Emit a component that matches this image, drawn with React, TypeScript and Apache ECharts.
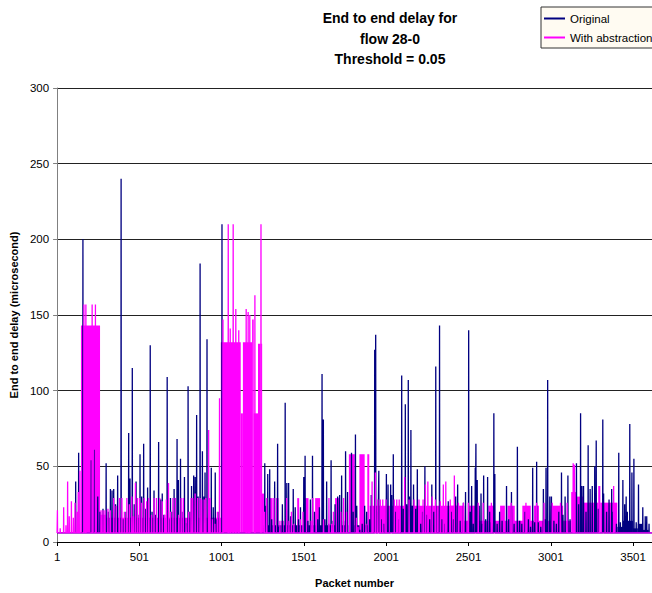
import React, { useEffect, useRef } from "react";
import * as echarts from "echarts";

// ---- axes ----
const xTickLabels = [1, 501, 1001, 1501, 2001, 2501, 3001, 3501];
const firstPacket = 1;
const lastPacket = 3616;
const floorDelay = 6;
const yMin = 0;
const yMax = 300;
const yStep = 50;

// ---- Original: individual spikes (packet number, delay in microseconds) ----
const originalPackets = [
  114, 132, 158, 209, 229, 248, 262, 280, 299, 312, 325, 335, 345, 356, 369, 390, 402, 420, 436, 444,
  458, 470, 481, 492, 505, 515, 527, 540, 551, 567, 578, 590, 600, 618, 630, 640, 650, 670, 680, 690,
  700, 712, 730, 738, 751, 760, 775, 786, 797, 808, 818, 831, 840, 849, 858, 870, 884, 893, 900, 912,
  922, 938, 950, 962, 972, 985, 1003, 1263, 1272, 1281, 1293, 1305, 1323, 1341, 1350, 1370, 1387, 1397,
  1408, 1420, 1436, 1448, 1468, 1480, 1500, 1508, 1525, 1540, 1553, 1565, 1585, 1595, 1611, 1619, 1628,
  1639, 1652, 1666, 1678, 1690, 1706, 1718, 1730, 1742, 1754, 1766, 1790, 1800, 1814, 1822, 1840, 1855,
  1870, 1882, 1900, 1910, 1931, 1937, 1950, 1956, 1970, 1985, 2002, 2012, 2028, 2034, 2044, 2060, 2080,
  2095, 2105, 2117, 2125, 2135, 2142, 2151, 2160, 2167, 2180, 2190, 2210, 2222, 2236, 2250, 2265, 2278,
  2290, 2302, 2325, 2340, 2360, 2378, 2395, 2410, 2423, 2435, 2450, 2470, 2483, 2502, 2512, 2520, 2530,
  2542, 2546, 2554, 2566, 2577, 2586, 2593, 2605, 2617, 2630, 2640, 2655, 2661, 2675, 2690, 2705, 2732,
  2745, 2762, 2778, 2798, 2812, 2825, 2845, 2865, 2878, 2891, 2903, 2915, 2925, 2940, 2956, 2965, 2972,
  2982, 2995, 3005, 3020, 3035, 3050, 3066, 3075, 3088, 3105, 3118, 3157, 3170, 3182, 3190, 3200, 3215,
  3228, 3240, 3253, 3268, 3277, 3290, 3317, 3322, 3340, 3355, 3371, 3380, 3400, 3414, 3424, 3439, 3450,
  3459, 3466, 3481, 3494, 3506, 3520, 3534, 3545, 3560, 3575, 3584, 3598,
];
const originalDelays = [
  40, 59, 200, 54, 61, 30, 20, 22, 52, 20, 35, 34, 35, 25, 44, 240, 15, 20, 72, 42,
  115, 25, 40, 18, 58, 30, 65, 22, 36, 130, 20, 34, 18, 66, 28, 32, 18, 109, 15, 29,
  20, 35, 68, 41, 55, 20, 43, 12, 103, 20, 37, 44, 43, 84, 30, 184, 60, 30, 46, 134,
  22, 49, 23, 46, 15, 20, 210, 52, 24, 45, 48, 15, 40, 65, 10, 25, 92, 39,
  39, 17, 35, 23, 15, 23, 43, 57, 14, 28, 57, 20, 15, 23, 111, 81, 15,
  40, 12, 54, 14, 25, 30, 31, 44, 14, 60, 33, 59, 20, 71, 24, 8, 12,
  24, 20, 15, 31, 127, 137, 20, 47, 15, 12, 45, 38, 38, 31, 58, 20, 15,
  110, 22, 91, 25, 107, 30, 74, 24, 38, 22, 48, 12, 20, 50, 18, 15, 38,
  20, 116, 143, 15, 12, 27, 20, 15, 30, 38, 14, 26, 33, 140, 20, 37, 12,
  49, 65, 41, 24, 32, 12, 44, 15, 43, 20, 13, 85, 45, 12, 20, 14, 37,
  15, 33, 12, 63, 14, 12, 20, 15, 10, 49, 13, 53, 13, 10, 35, 15, 49,
  107, 30, 30, 14, 12, 20, 46, 18, 30, 44, 15, 52, 25, 85, 37, 37, 20,
  64, 35, 37, 50, 67, 22, 81, 32, 20, 28, 35, 20, 12, 59, 13, 41, 25,
  30, 20, 78, 46, 55, 13, 38, 10, 23, 17, 17, 12,
];
// Original: stretches where the trace oscillates too fast to separate (start, end, upper level)
const originalBandStart = [1255, 1775, 3405, 3440, 3500, 3530, 3560];
const originalBandEnd = [1770, 1900, 3440, 3500, 3530, 3560, 3596];
const originalBandTop = [11, 11, 10, 14, 9, 12, 8];

// ---- With abstraction: individual spikes ----
const abstractionPackets = [
  3, 20, 41, 55, 65, 75, 88, 100, 110, 122, 130, 140, 164, 176, 214, 234, 268, 280, 292, 310,
  325, 345, 360, 380, 395, 410, 425, 440, 455, 465, 477, 490, 503, 515, 530, 545, 558, 575, 590, 605,
  625, 640, 655, 665, 678, 690, 705, 720, 740, 755, 768, 785, 800, 815, 825, 840, 855, 870, 880, 895,
  905, 922, 930, 945, 960, 975, 988, 1009, 1041, 1053, 1071, 1087, 1105, 1150, 1162, 1172, 1203, 1240,
  1262, 1275, 1318, 1355, 1396, 1410, 1425, 1440, 1480, 1495, 1545, 1555, 1620, 1653, 1670, 1680, 1725,
  1742, 1760, 1820, 1830, 1878, 1915, 1935, 1950, 1965, 1980, 2000, 2050, 2065, 2080, 2113, 2140, 2170,
  2200, 2225, 2239, 2254, 2280, 2300, 2330, 2348, 2363, 2390, 2415, 2440, 2470, 2500, 2560, 2590, 2640,
  2760, 2850, 2915, 2960, 3010, 3060, 3100, 3137, 3145, 3296, 3383,
];
const abstractionDelays = [
  21, 9, 23, 11, 40, 17, 27, 16, 26, 20, 33, 47, 157, 157, 157, 157, 21, 21, 21, 22,
  21, 29, 24, 29, 29, 20, 29, 25, 30, 17, 39, 29, 29, 26, 29, 27, 29, 18, 29, 29,
  29, 27, 18, 28, 39, 20, 29, 29, 18, 29, 29, 12, 20, 29, 29, 32, 29, 29, 28, 28,
  29, 74, 29, 15, 12, 20, 95, 147, 210, 141, 210, 154, 140, 154, 152, 150, 163, 210,
  20, 29, 29, 14, 29, 14, 20, 12, 15, 20, 14, 29, 15, 29, 12, 20, 20,
  29, 20, 16, 10, 12, 40, 46, 28, 28, 28, 28, 28, 28, 28, 43, 28, 28,
  28, 28, 38, 40, 30, 28, 27, 38, 40, 28, 44, 26, 26, 26, 26, 26, 26,
  26, 26, 26, 26, 26, 26, 26, 52, 51, 37, 37,
];
// With abstraction: dense stretches (start, end, upper level)
const abstractionBandStart = [
  146, 262, 300, 996, 1117, 1130, 1186, 1196, 1222, 1241, 1246, 1293, 1331, 1363, 1460, 1504, 1569, 1690,
  1774, 1838, 1886, 1900, 2430, 2395, 2506, 2621, 2693, 2738, 2828, 2899, 2999, 3125, 3160, 3200, 3290, 3302,
];
const abstractionBandEnd = [
  262, 300, 1000, 1117, 1130, 1186, 1196, 1222, 1238, 1246, 1258, 1311, 1347, 1379, 1472, 1529, 1599, 1714,
  1810, 1870, 1898, 2430, 3125, 2476, 2546, 2657, 2722, 2782, 2879, 2929, 3076, 3160, 3200, 3290, 3302, 3405,
];
const abstractionBandTop = [
  143, 18, 16, 132, 85, 132, 147, 85, 131, 131, 32, 29, 29, 14, 29, 29, 29, 29,
  58, 58, 58, 24, 14, 24, 24, 24, 24, 24, 24, 24, 24, 33, 30, 26, 37, 26,
];

const ORIGINAL_COLOR = "#000080";
const ABSTRACTION_COLOR = "#FF00FF";
const FONT = "'Liberation Sans', Arial, sans-serif";

function spikeTrace(packets: number[], delays: number[]) {
  const order = packets.map((_, i) => i).sort((a, b) => packets[a] - packets[b]);
  const pts: number[][] = [[firstPacket, floorDelay]];
  order.forEach((i) => {
    const p = packets[i];
    pts.push([p - 1, floorDelay], [p, delays[i]], [p + 1, floorDelay]);
  });
  pts.push([lastPacket, floorDelay]);
  return pts;
}

function bandSeries(name: string, color: string, starts: number[], ends: number[], tops: number[]) {
  return {
    type: "custom",
    name,
    silent: true,
    data: starts.map((s, i) => [s, ends[i], tops[i]]),
    encode: { x: [0, 1], y: 2 },
    renderItem: (_params: any, api: any) => {
      const a = api.coord([api.value(0), floorDelay]);
      const b = api.coord([api.value(1), api.value(2)]);
      return {
        type: "rect",
        shape: { x: a[0], y: b[1], width: Math.max(b[0] - a[0], 1), height: a[1] - b[1] },
        style: { fill: color },
      };
    },
  };
}

export default function App() {
  const ref = useRef<HTMLDivElement>(null);
  useEffect(() => {
    if (!ref.current) return;
    const chart = echarts.init(ref.current, undefined, { renderer: "svg" });
    chart.setOption({
      animation: false,
      backgroundColor: "#ffffff",
      textStyle: { fontFamily: FONT },
      title: {
        text: "End to end delay for\nflow 28-0\nThreshold = 0.05",
        left: 390,
        top: 8,
        padding: 0,
        textAlign: "center",
        textStyle: { fontFamily: FONT, fontSize: 14, fontWeight: "bold", color: "#000", lineHeight: 20.5 },
      },
      legend: {
        data: ["Original", "With abstraction"],
        orient: "vertical",
        left: 541,
        top: 7,
        padding: [5, 50, 4, 3],
        itemGap: 6,
        itemWidth: 21,
        itemHeight: 2,
        icon: "rect",
        backgroundColor: "#FFFBF2",
        borderColor: "#333333",
        borderWidth: 1,
        textStyle: { fontFamily: FONT, fontSize: 11.5, color: "#000", lineHeight: 13 },
      },
      grid: { left: 54, top: 88, right: 0, bottom: 51, containLabel: false },
      xAxis: {
        type: "value",
        min: firstPacket,
        max: lastPacket,
        name: "Packet number",
        nameLocation: "middle",
        nameGap: 35,
        nameTextStyle: { fontFamily: FONT, fontSize: 11, fontWeight: "bold", color: "#000" },
        axisLine: { show: true, lineStyle: { color: "#000", width: 1 } },
        axisTick: { show: true, length: 4, customValues: xTickLabels, lineStyle: { color: "#000" } },
        axisLabel: {
          customValues: xTickLabels,
          margin: 9,
          fontSize: 11.5,
          color: "#000",
          fontFamily: FONT,
          formatter: (v: number) => String(v),
        },
        splitLine: { show: false },
      },
      yAxis: {
        type: "value",
        min: yMin,
        max: yMax,
        interval: yStep,
        name: "End to end delay (microsecond)",
        nameLocation: "middle",
        nameGap: 33,
        nameTextStyle: { fontFamily: FONT, fontSize: 11, fontWeight: "bold", color: "#000" },
        axisLine: { show: true, lineStyle: { color: "#808080", width: 1 } },
        axisTick: { show: true, length: 4, lineStyle: { color: "#808080" } },
        axisLabel: { margin: 8, fontSize: 11.5, color: "#000", fontFamily: FONT },
        splitLine: { show: true, lineStyle: { color: "#222", width: 1 } },
      },
      series: [
        {
          type: "line",
          name: "Original",
          data: spikeTrace(originalPackets, originalDelays),
          showSymbol: false,
          symbol: "none",
          lineStyle: { color: ORIGINAL_COLOR, width: 1.3 },
          itemStyle: { color: ORIGINAL_COLOR },
        },
        bandSeries("Original (dense)", ORIGINAL_COLOR, originalBandStart, originalBandEnd, originalBandTop),
        {
          type: "line",
          name: "With abstraction",
          data: spikeTrace(abstractionPackets, abstractionDelays),
          showSymbol: false,
          symbol: "none",
          lineStyle: { color: ABSTRACTION_COLOR, width: 1.3 },
          itemStyle: { color: ABSTRACTION_COLOR },
        },
        bandSeries("With abstraction (dense)", ABSTRACTION_COLOR, abstractionBandStart, abstractionBandEnd, abstractionBandTop),
      ],
    });
    return () => chart.dispose();
  }, []);
  return (
    <div
      ref={ref}
      style={{ position: "absolute", left: 0, top: 0, width: 652, height: 593 }}
    />
  );
}
